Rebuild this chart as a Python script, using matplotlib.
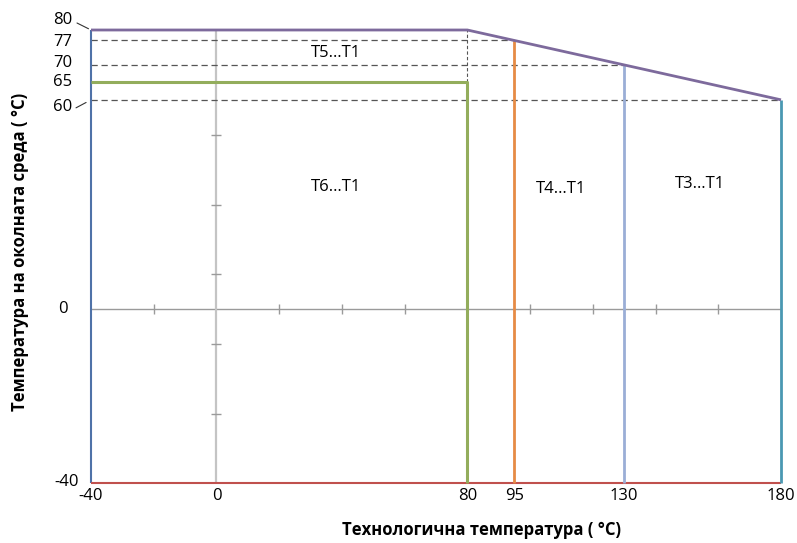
import matplotlib
matplotlib.use("Agg")
import matplotlib.pyplot as plt
import numpy as np

plt.rcParams["font.family"] = ["Open Sans", "DejaVu Sans"]

# ambient limit (y) against process temperature (x)
limit_x = [-40, 80, 180]
limit_y = [80, 80, 60]

t6_x, t6_y = 80, 65
t4_x, t4_y = 95, 77
t3_x, t3_y = 130, 70
tmax_x, tmax_y = 180, 60

x_ticks = [-40, 0, 80, 95, 130, 180]
y_ticks = [80, 77, 70, 65, 60, 0, -40]

zone_labels = ["T5…T1", "T6…T1", "T4…T1", "T3…T1"]
zone_x = [38, 38, 110, 154]
zone_y = [73.5, 35, 34.5, 36]

minor_x = [-20, 20, 40, 60, 100, 120, 140, 160]
minor_y = [50, 30, 10, -8, -24]

# below zero the drawing is stretched
k_neg = 174 / 140.0
def fwd(y):
    y = np.asarray(y, dtype=float)
    return np.where(y < 0, y * k_neg, y)
def inv(y):
    y = np.asarray(y, dtype=float)
    return np.where(y < 0, y / k_neg, y)

fig = plt.figure(figsize=(7.97, 5.43), dpi=100)
ax = fig.add_axes([91 / 797, 1 - 483 / 543, 690 / 797, 453 / 543])
ax.set_yscale("function", functions=(fwd, inv))
ax.set_xlim(-40, 180)
ax.set_ylim(-40, 80)

for s in ax.spines.values():
    s.set_visible(False)

# zero lines with small ticks
ax.plot([-40, 180], [0, 0], color="#9a9a9a", lw=1.0, zorder=1)
ax.plot([0, 0], [-40, 80], color="#c4c4c4", lw=1.6, zorder=1)
ax.plot(minor_x, [0] * len(minor_x), ls="none", marker="|", ms=7, mew=1.0, color="#9a9a9a")
ax.plot([0] * len(minor_y), minor_y, ls="none", marker="_", ms=7, mew=1.0, color="#9a9a9a")

# dashed guides
dash = dict(color="#555555", lw=0.9, ls=(0, (5, 3)), zorder=2)
ax.plot([-40, t4_x], [t4_y, t4_y], **dash)
ax.plot([-40, t3_x], [t3_y, t3_y], **dash)
ax.plot([-40, tmax_x], [tmax_y, tmax_y], **dash)
ax.plot([t6_x, t6_x], [t6_y, 80], color="#555555", lw=0.8, ls=(0, (3, 2)), zorder=2)

# boundary lines
nc = dict(clip_on=False, solid_capstyle="butt")
ax.plot([-40, -40], [-40, 80], color="#4f72a8", lw=1.5, zorder=3, **nc)
ax.plot([-40, 180], [-40, -40], color="#c0504d", lw=1.5, zorder=3, **nc)
ax.plot([-40, t6_x, t6_x], [t6_y, t6_y, -40], color="#93ad5c", lw=2.2, zorder=4, **nc)
ax.plot([t4_x, t4_x], [-40, t4_y], color="#e68b45", lw=2.0, zorder=4, **nc)
ax.plot([t3_x, t3_x], [-40, t3_y], color="#9aaed6", lw=2.0, zorder=4, **nc)
ax.plot([tmax_x, tmax_x], [-40, tmax_y], color="#4a98b2", lw=2.0, zorder=4, **nc)
ax.plot(limit_x, limit_y, color="#7d6a9c", lw=2.0, zorder=5, **nc)

for lab, x, y in zip(zone_labels, zone_x, zone_y):
    ax.text(x, y, lab, ha="center", va="center", fontsize=12)

# x tick labels
ax.set_xticks(x_ticks)
ax.set_xticklabels([str(v) for v in x_ticks])
ax.tick_params(axis="x", length=0, pad=3.5, labelsize=12)
ax.set_yticks([])

# y tick labels, offsets in pixels
px = 0.72
y_off = {80: (-19, 10), 77: (-19, -2), 70: (-19, 2), 65: (-19, 0),
         60: (-19, -7), 0: (-23, 0), -40: (-12, 1)}
for v in y_ticks:
    dx, dy = y_off[v]
    ax.annotate(str(v), xy=(-40, v), xytext=(dx * px, dy * px),
                textcoords="offset points", ha="right", va="center",
                fontsize=12, annotation_clip=False)

# leader strokes for 80 and 60
ax.annotate("", xy=(-40, 80), xytext=(-14 * px, 7 * px), textcoords="offset points",
            arrowprops=dict(arrowstyle="-", shrinkA=0, shrinkB=2, lw=0.8, color="#333333"),
            annotation_clip=False)
ax.annotate("", xy=(-40, 60), xytext=(-15 * px, -8 * px), textcoords="offset points",
            arrowprops=dict(arrowstyle="-", shrinkA=0, shrinkB=4, lw=0.8, color="#333333"),
            annotation_clip=False)

fig.text(481 / 797, 1 - 530 / 543, "Технологична температура ( °C)",
         ha="center", va="center", fontsize=12, fontweight="bold")
fig.text(20 / 797, 1 - 252 / 543, "Температура на околната среда ( °C)",
         ha="center", va="center", rotation=90, fontsize=12, fontweight="bold")

fig.savefig("out.png", dpi=100)
